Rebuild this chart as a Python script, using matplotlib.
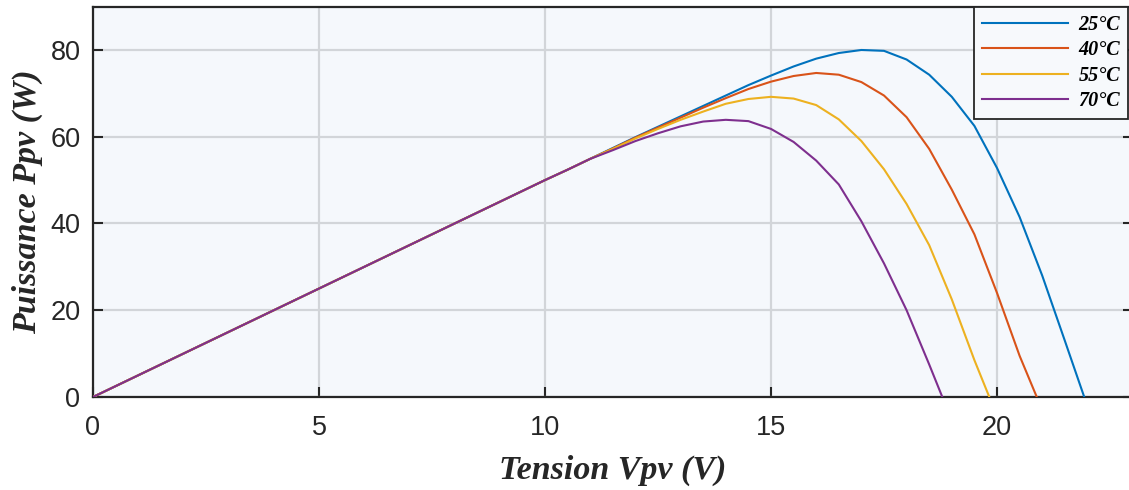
import numpy as np
import matplotlib
matplotlib.use("Agg")
import matplotlib.pyplot as plt

# tension (V) et puissance (W)
v_lin = [0, 0.5, 1, 1.5, 2, 2.5, 3, 3.5, 4, 4.5, 5, 5.5, 6, 6.5, 7, 7.5, 8, 8.5, 9, 9.5, 10, 10.5, 11]
p_lin = [0, 2.5, 5, 7.5, 10, 12.5, 15, 17.5, 20, 22.5, 25, 27.5, 30, 32.5, 35, 37.5, 40, 42.5, 45, 47.5, 50, 52.4, 54.9]

v_25 = [11.5, 12, 12.5, 13, 13.5, 14, 14.5, 15, 15.5, 16, 16.5, 17, 17.5, 18, 18.5, 19, 19.5, 20, 20.5, 21, 21.5, 21.93]
p_25 = [57.4, 59.9, 62.3, 64.7, 67.1, 69.5, 71.9, 74.1, 76.2, 78.0, 79.3, 80.0, 79.8, 77.8, 74.3, 69.2, 62.5, 52.8, 41.5, 28.0, 13.0, 0]

v_40 = [11.5, 12, 12.5, 13, 13.5, 14, 14.5, 15, 15.5, 16, 16.5, 17, 17.5, 18, 18.5, 19, 19.5, 20, 20.5, 20.88]
p_40 = [57.3, 59.8, 62.1, 64.4, 66.7, 68.9, 71.0, 72.7, 74.0, 74.7, 74.3, 72.6, 69.5, 64.5, 57.2, 47.8, 37.5, 24.0, 9.5, 0]

v_55 = [11.5, 12, 12.5, 13, 13.5, 14, 14.5, 15, 15.5, 16, 16.5, 17, 17.5, 18, 18.5, 19, 19.5, 19.83]
p_55 = [57.2, 59.6, 61.8, 63.9, 65.8, 67.6, 68.7, 69.2, 68.8, 67.3, 64.0, 59.0, 52.5, 44.5, 35.0, 22.5, 8.5, 0]

v_70 = [11.5, 12, 12.5, 13, 13.5, 14, 14.5, 15, 15.5, 16, 16.5, 17, 17.5, 18, 18.5, 18.79]
p_70 = [56.9, 59.0, 60.8, 62.4, 63.5, 63.9, 63.6, 61.8, 58.8, 54.5, 49.0, 40.5, 30.8, 20.0, 7.5, 0]

labels = ["25°C", "40°C", "55°C", "70°C"]
colors = ["#0072BD", "#D95319", "#EDB120", "#7E2F8E"]
series = [(v_25, p_25), (v_40, p_40), (v_55, p_55), (v_70, p_70)]

plt.rcParams['font.family'] = ['Liberation Sans', 'DejaVu Sans']

fig = plt.figure(figsize=(11.29, 4.9), dpi=100)
ax = fig.add_axes([93/1129, 1-397/490, 1039.6/1129, 390.4/490])
ax.set_facecolor("#F5F8FC")

for (v, p), c, lab in zip(series, colors, labels):
    ax.plot(v_lin + v, p_lin + p, color=c, lw=1.5, label=lab, zorder=3)

ax.set_xlim(0, 23)
ax.set_ylim(0, 90)
ax.set_xticks([0, 5, 10, 15, 20])
ax.set_yticks([0, 20, 40, 60, 80])
ax.grid(True, color="#D2D5D9", lw=1.6)
ax.set_axisbelow(True)
ax.tick_params(direction="in", length=7, width=1.5, labelsize=19.5, colors="#262626",
               top=False, right=True)
ax.tick_params(axis="x", pad=13)
ax.tick_params(axis="y", pad=9)
for s in ax.spines.values():
    s.set_color("#262626")
    s.set_linewidth(1.6)

lab_font = dict(family="Liberation Serif", weight="bold", style="italic", size=24.5, color="#262626")
ax.set_xlabel("Tension Vpv (V)", labelpad=10, **lab_font)
ax.set_ylabel("Puissance Ppv (W)", labelpad=5, **lab_font)

leg = ax.legend(loc="upper right", bbox_to_anchor=(0.9956, 0.999), borderaxespad=0,
                frameon=True, fancybox=False,
                prop=dict(family="Liberation Serif", weight="bold", style="italic", size=14.5),
                handlelength=4.3, borderpad=0.4, labelspacing=0.27, handletextpad=0.5)
leg.get_frame().set_edgecolor("#262626")
leg.get_frame().set_linewidth(1.3)
leg.get_frame().set_facecolor("#F7F9FC")
leg.get_frame().set_alpha(1)

fig.savefig("out.png", dpi=100)
